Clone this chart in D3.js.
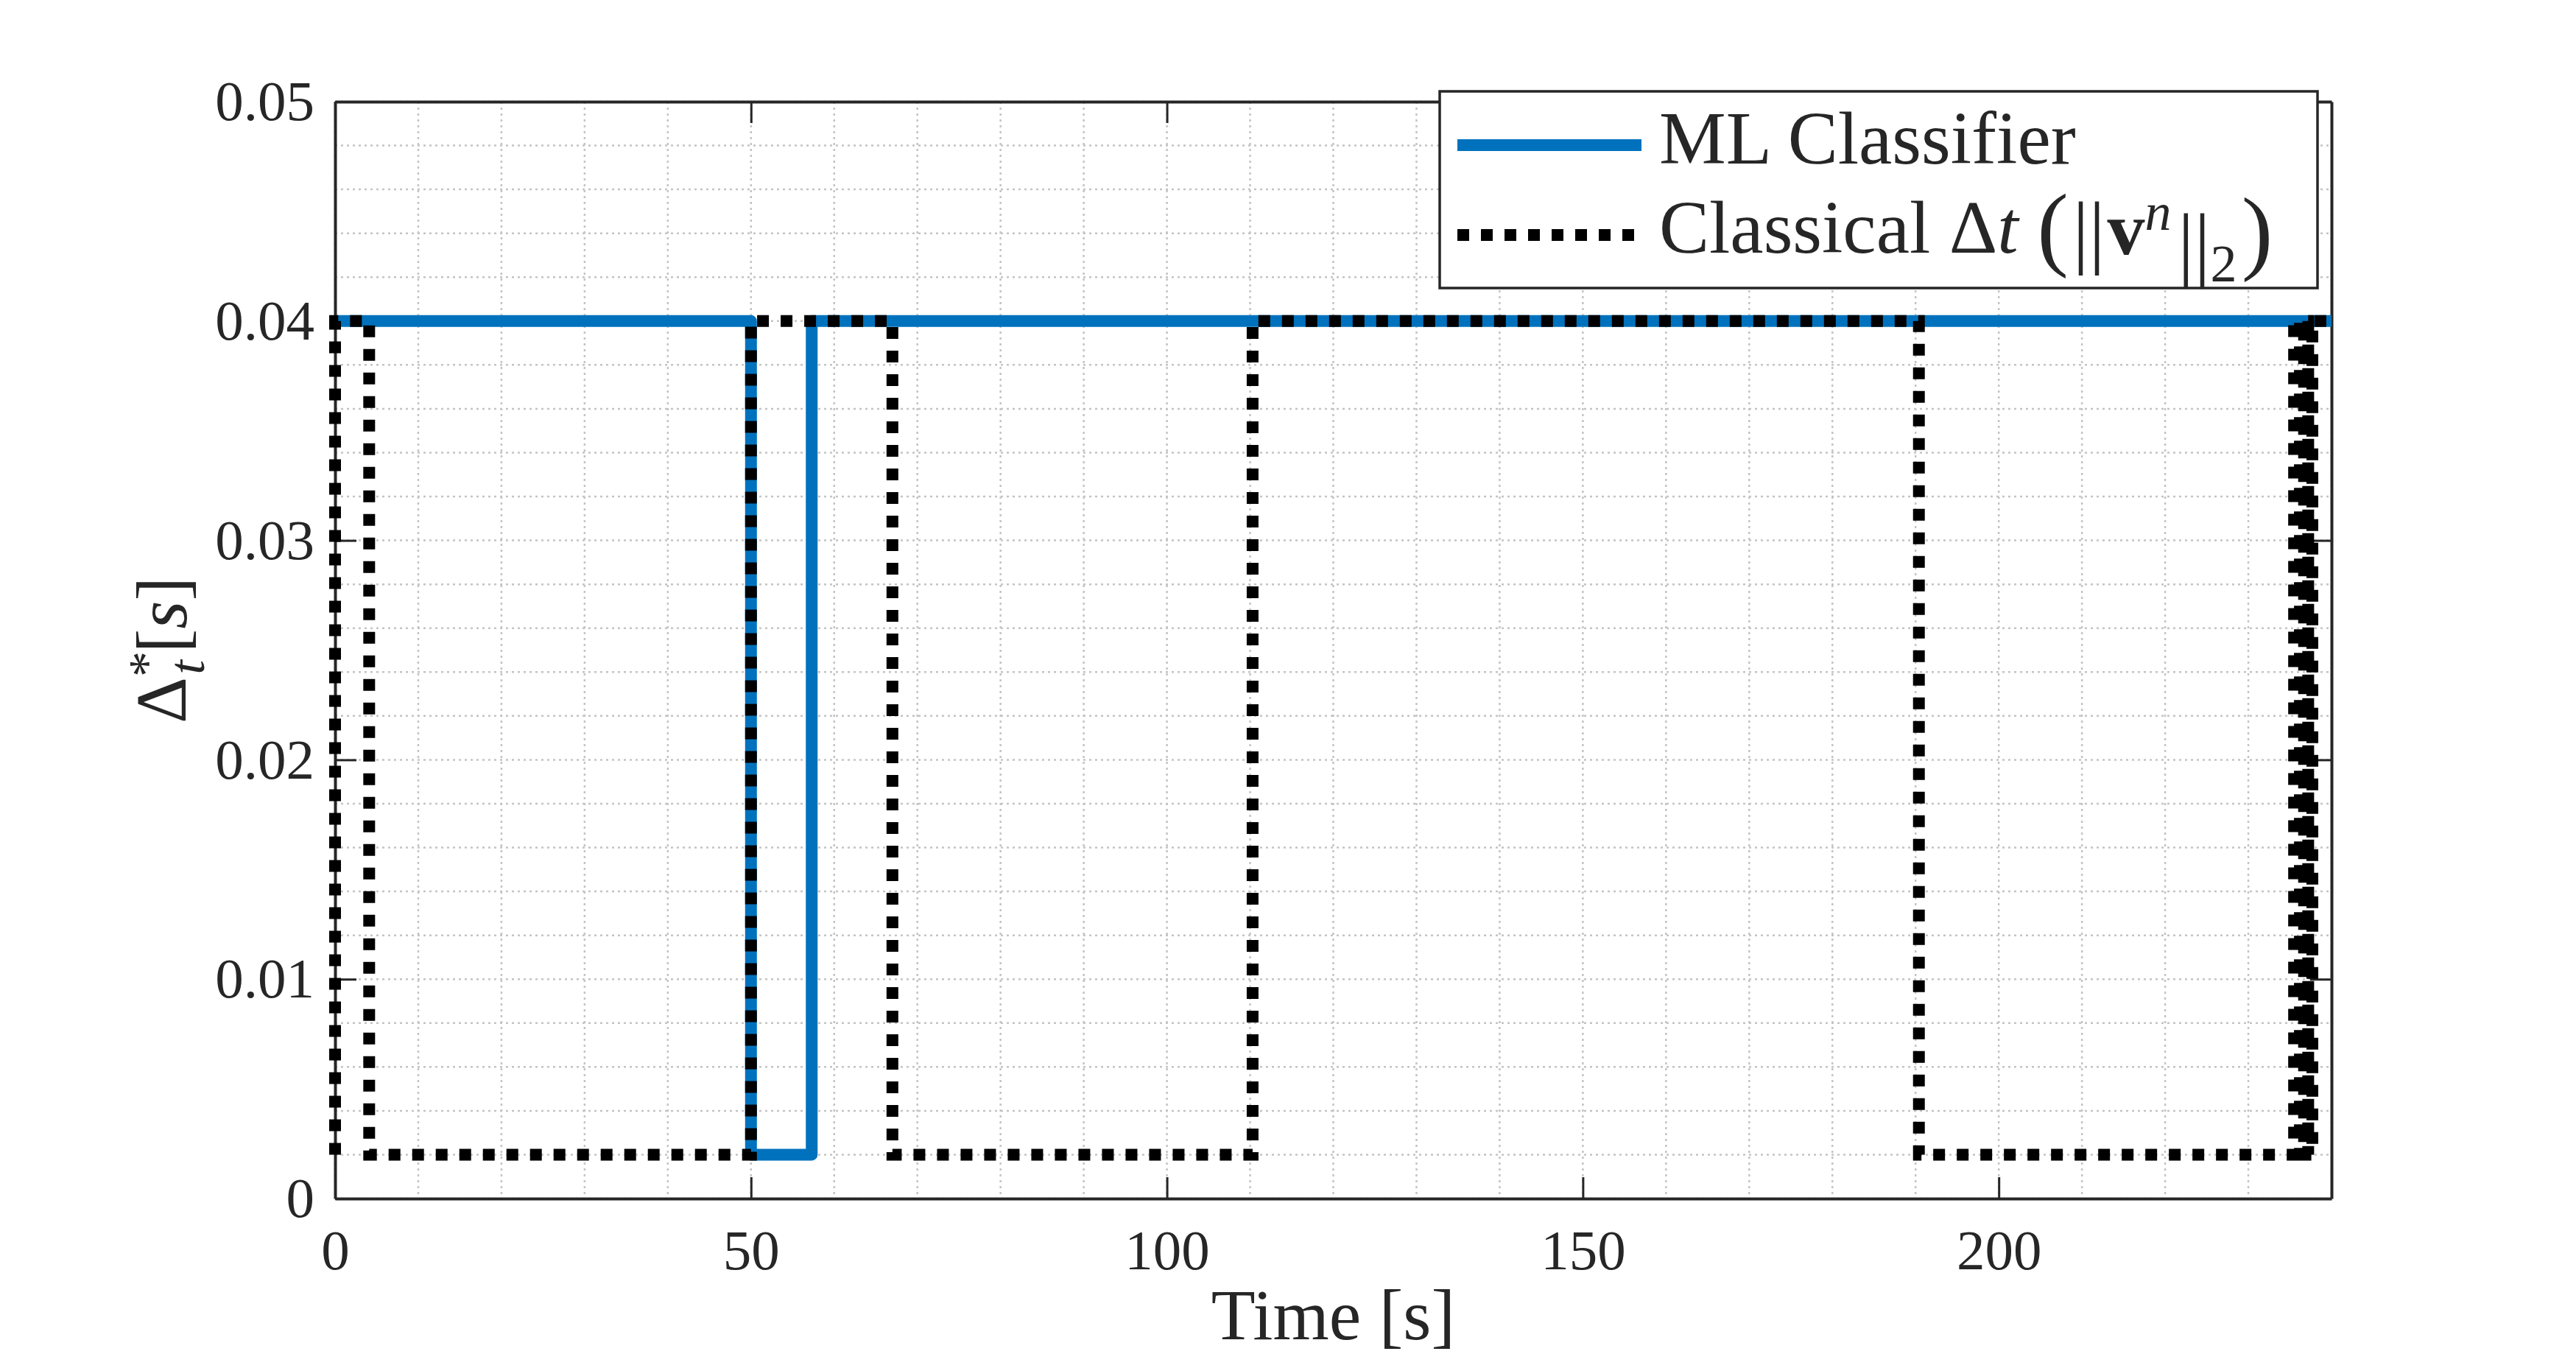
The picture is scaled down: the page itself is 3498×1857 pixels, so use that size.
<!DOCTYPE html>
<html>
<head>
<meta charset="utf-8">
<script src="https://cdn.jsdelivr.net/npm/d3@7"></script>
<style>
  body { margin: 0; background: #fff; }
  svg text { font-family: "Liberation Serif", "DejaVu Serif", serif; fill: #262626; }
</style>
</head>
<body>
<div id="chart"></div>
<script>
// ML classifier time step (stairs: value holds from time[i] to time[i+1])
const mlTime  = [0, 50, 57.3, 240];
const mlValue = [0.04, 0.002, 0.04, 0.04];

// classical dt based on ||v^n||_2
const classicalTime  = [0, 0, 4.1, 50, 67, 110.3, 190.4, 235.5, 236.2, 236.7, 237.2, 237.7, 240];
const classicalValue = [0.002, 0.04, 0.002, 0.04, 0.002, 0.04, 0.002, 0.04, 0.002, 0.04, 0.002, 0.04, 0.04];

const xTicks = [0, 50, 100, 150, 200];
const yTicks = [0, 0.01, 0.02, 0.03, 0.04, 0.05];
const xGrid = d3.range(0, 241, 10);
const yGrid = d3.range(0, 0.0501, 0.002);

const seriesNames = ["ML Classifier", "Classical"];

function createStepChart(selector) {
    const W = 3498, H = 1857;
    const margin = { top: 138, right: 332, bottom: 230, left: 455 },
        width = W - margin.left - margin.right,
        height = H - margin.top - margin.bottom;

    const svg = d3.select(selector)
        .append("svg")
        .attr("width", W)
        .attr("height", H);

    const g = svg.append("g")
        .attr("transform", `translate(${margin.left},${margin.top})`);

    const x = d3.scaleLinear().domain([0, 240]).range([0, width]);
    const y = d3.scaleLinear().domain([0, 0.05]).range([height, 0]);

    // grid
    g.append("g").selectAll("line")
        .data(xGrid)
        .enter()
        .append("line")
        .attr("x1", d => x(d)).attr("x2", d => x(d))
        .attr("y1", 0).attr("y2", height)
        .attr("stroke", "#c4c4c4")
        .attr("stroke-width", 2.5)
        .attr("stroke-dasharray", "3 5");

    g.append("g").selectAll("line")
        .data(yGrid)
        .enter()
        .append("line")
        .attr("x1", 0).attr("x2", width)
        .attr("y1", d => y(d)).attr("y2", d => y(d))
        .attr("stroke", "#c4c4c4")
        .attr("stroke-width", 2.5)
        .attr("stroke-dasharray", "3 5");

    // axes (ticks inward, box on)
    const tickLen = 29;
    const fmtY = d => d === 0 ? "0" : d.toFixed(2);

    const styleAxis = sel => {
        sel.selectAll("path").attr("stroke", "#262626").attr("stroke-width", 4);
        sel.selectAll("line").attr("stroke", "#262626").attr("stroke-width", 3);
        sel.selectAll("text").style("font-size", "77px").attr("fill", "#262626");
    };

    g.append("g")
        .attr("transform", `translate(0,${height})`)
        .call(d3.axisBottom(x).tickValues(xTicks).tickSize(-tickLen).tickSizeOuter(0).tickPadding(41))
        .call(styleAxis);

    g.append("g")
        .call(d3.axisTop(x).tickValues(xTicks).tickSize(-tickLen).tickSizeOuter(0).tickFormat(""))
        .call(styleAxis);

    g.append("g")
        .call(d3.axisLeft(y).tickValues(yTicks).tickSize(-tickLen).tickSizeOuter(0).tickPadding(28).tickFormat(fmtY))
        .call(styleAxis);

    g.append("g")
        .attr("transform", `translate(${width},0)`)
        .call(d3.axisRight(y).tickValues(yTicks).tickSize(-tickLen).tickSizeOuter(0).tickFormat(""))
        .call(styleAxis);

    g.selectAll(".domain").attr("fill", "none");

    // series
    const line = d3.line()
        .x(d => x(d[0]))
        .y(d => y(d[1]))
        .curve(d3.curveStepAfter);

    const mlData = mlTime.map((t, i) => [t, mlValue[i]]);
    const classicalData = classicalTime.map((t, i) => [t, classicalValue[i]]);

    g.append("path")
        .datum(mlData)
        .attr("d", line)
        .attr("fill", "none")
        .attr("stroke", "#0072BD")
        .attr("stroke-width", 16)
        .attr("stroke-linejoin", "round");

    g.append("path")
        .datum(classicalData)
        .attr("d", line)
        .attr("fill", "none")
        .attr("stroke", "#000")
        .attr("stroke-width", 16)
        .attr("stroke-dasharray", "16 16");

    // axis labels
    svg.append("text")
        .attr("x", margin.left + width / 2)
        .attr("y", 1818)
        .attr("text-anchor", "middle")
        .style("font-size", "98px")
        .text("Time [s]");

    const yl = svg.append("text")
        .attr("transform", `translate(252,${margin.top + height / 2}) rotate(-90)`)
        .attr("text-anchor", "middle")
        .style("font-size", "98px");
    yl.append("tspan").text("Δ");
    yl.append("tspan").attr("dy", "-0.42em").style("font-size", "70px").text("*");
    yl.append("tspan").attr("dx", "-0.45em").attr("dy", "0.78em").style("font-size", "70px").style("font-style", "italic").text("t");
    yl.append("tspan").attr("dy", "-0.25em").attr("dx", "0.1em").text("[");
    yl.append("tspan").style("font-style", "italic").text("s");
    yl.append("tspan").text("]");

    // legend
    const lg = svg.append("g");
    lg.append("rect")
        .attr("x", 1955).attr("y", 124)
        .attr("width", 1192).attr("height", 267)
        .attr("fill", "#fff")
        .attr("stroke", "#262626")
        .attr("stroke-width", 3.5);

    lg.append("line")
        .attr("x1", 1979).attr("x2", 2229)
        .attr("y1", 197).attr("y2", 197)
        .attr("stroke", "#0072BD")
        .attr("stroke-width", 16);

    lg.append("line")
        .attr("x1", 1979).attr("x2", 2229)
        .attr("y1", 319).attr("y2", 319)
        .attr("stroke", "#000")
        .attr("stroke-width", 16)
        .attr("stroke-dasharray", "16 16");

    lg.append("text")
        .attr("x", 2253).attr("y", 222)
        .style("font-size", "102px")
        .attr("fill", "#000")
        .text(seriesNames[0]);

    const t2 = lg.append("text")
        .attr("x", 2253).attr("y", 343)
        .style("font-size", "102px")
        .attr("fill", "#000");
    t2.append("tspan").text(seriesNames[1] + " Δ");
    t2.append("tspan").style("font-style", "italic").text("t");
    t2.append("tspan").attr("dx", "0.2em").attr("dy", "0.06em").style("font-size", "128px").text("(");
    t2.append("tspan").attr("dx", "0.05em").style("font-size", "110px").text("|");
    t2.append("tspan").style("font-size", "110px").text("|");
    t2.append("tspan").attr("dx", "0.03em").attr("dy", "-0.06em").style("font-weight", "bold").text("v");
    t2.append("tspan").attr("dy", "-0.45em").style("font-size", "72px").style("font-style", "italic").text("n");
    t2.append("tspan").attr("dx", "0.08em").attr("dy", "0.5em").style("font-size", "110px").text("|");
    t2.append("tspan").style("font-size", "110px").text("|");
    t2.append("tspan").attr("dy", "0.2em").style("font-size", "72px").text("2");
    t2.append("tspan").attr("dx", "0.05em").attr("dy", "-0.2em").style("font-size", "128px").text(")");
}

createStepChart("#chart");
</script>
</body>
</html>
